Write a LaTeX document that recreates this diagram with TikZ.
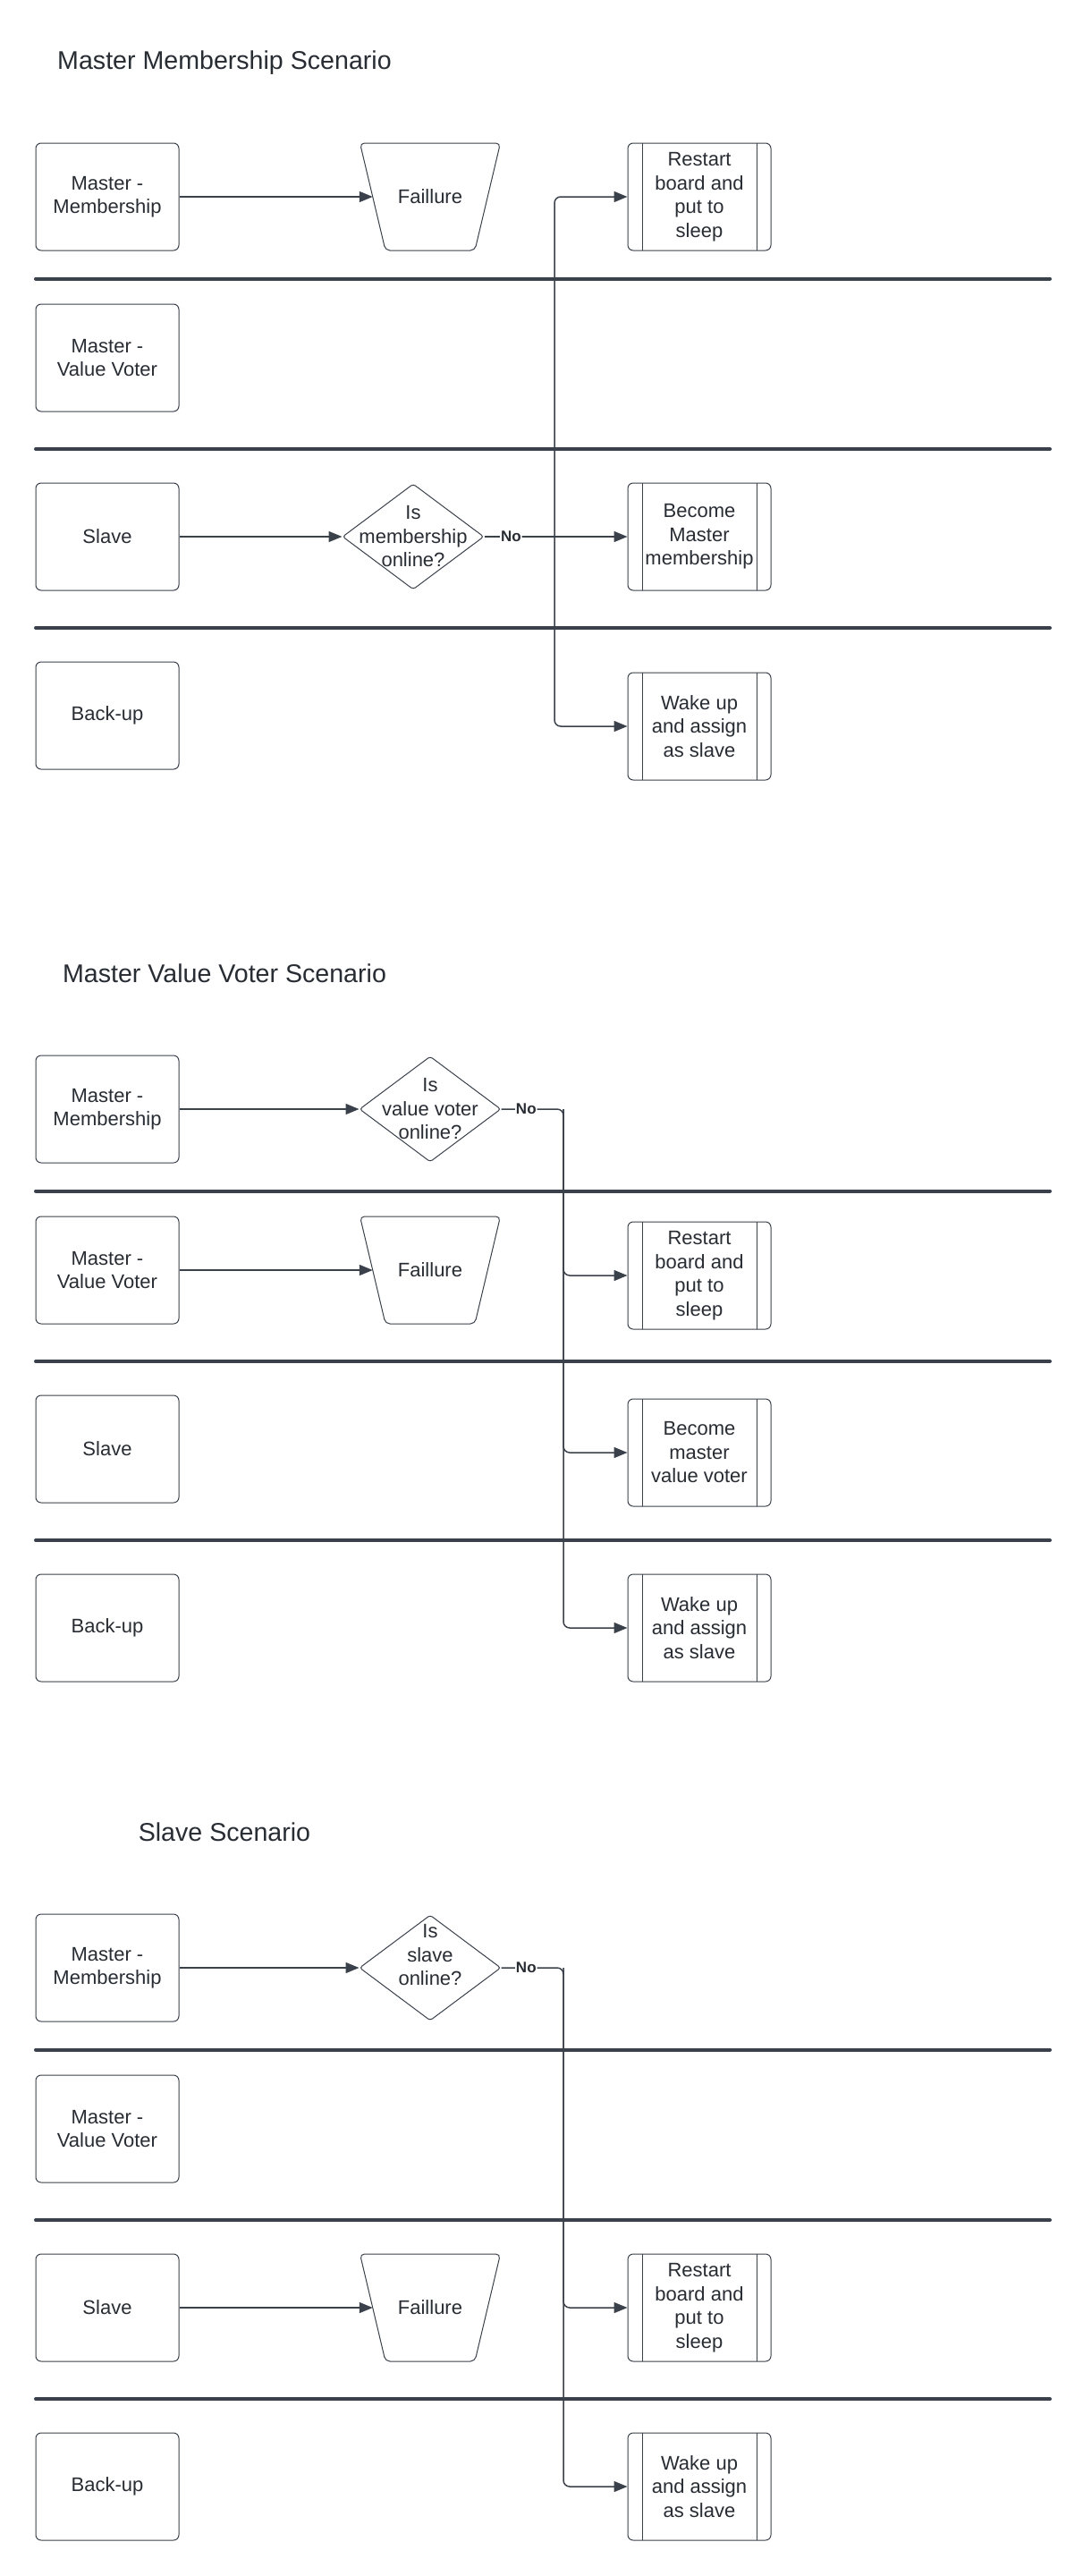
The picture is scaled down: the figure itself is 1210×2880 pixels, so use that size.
\documentclass[tikz,border=0pt]{standalone}
\usepackage{fontspec}
\setmainfont{Liberation Sans}
\usepackage{tikz}
\usetikzlibrary{arrows.meta,shapes.geometric}
\definecolor{inkgray}{HTML}{282C33}
\definecolor{linegray}{HTML}{3A414A}

\tikzset{
  boxfont/.style={text=inkgray, font=\fontsize{22}{26.5}\selectfont},
  lane/.style={boxfont, draw=linegray, line width=1pt, rounded corners=6pt,
    minimum width=160pt, minimum height=120pt, align=center},
  procbox/.style={lane, inner sep=0pt,
    path picture={\draw[linegray, line width=1pt]
      ([xshift=16pt]path picture bounding box.north west) -- ([xshift=16pt]path picture bounding box.south west)
      ([xshift=-16pt]path picture bounding box.north east) -- ([xshift=-16pt]path picture bounding box.south east);}},
  failbox/.style={boxfont, minimum width=128.5pt, minimum height=120pt,
    inner sep=0pt, outer sep=0pt},
  failline/.style={draw=linegray, line width=1pt, rounded corners=5pt},
  decision/.style={draw=linegray, line width=1pt, diamond, minimum width=158pt,
    minimum height=118pt, inner sep=0pt, rounded corners=3pt},
  asktext/.style={boxfont, align=center, inner sep=0pt},
  heading/.style={text=inkgray, font=\fontsize{28.6}{34}\selectfont},
  divider/.style={draw=linegray, line width=4pt, line cap=round},
  flow/.style={draw=linegray, line width=1.5pt, rounded corners=7pt,
    -{Triangle[length=15pt,width=12pt]}},
  nolabel/.style={fill=white, inner sep=1pt, text=inkgray,
    font=\bfseries\fontsize{17}{18}\selectfont, pos=0.4}
}
% outline of a failure node: wide on top, narrow below
\newcommand{\failshape}[1]{%
  \draw[failline] ([xshift=-78.5pt]#1.north) -- ([xshift=78.5pt]#1.north)
    -- ([xshift=50pt]#1.south) -- ([xshift=-50pt]#1.south) -- cycle;}

\begin{document}
\begin{tikzpicture}[x=1pt,y=-1pt]
  \fill[white] (0,0) rectangle (1210,2880);
  \useasboundingbox (0,0) rectangle (1210,2880);

  % titles
  \node[heading] (t1) at (251,70) {Master Membership Scenario};
  \node[heading] (t2) at (251,1088) {Master Value Voter Scenario};
  \node[heading] (t3) at (251,2048) {Slave Scenario};

  % the four lanes of every scenario
  \foreach \s/\b in {1/160,2/1180,3/2140} {
    \node[lane] (mm\s) at (120,\b+60) {Master -\\Membership};
    \node[lane] (vv\s) at (120,\b+240) {Master -\\Value Voter};
    \node[lane] (sl\s) at (120,\b+440) {Slave};
    \node[lane] (bk\s) at (120,\b+640) {Back-up};
    \foreach \d in {151.5,342,542}
      \draw[divider] (40,\b+\d) -- (1174,\b+\d);
  }

  % master membership scenario
  \node[failbox] (fl1) at (481,220) {Faillure};
  \failshape{fl1}
  \node[procbox] (rs1) at (782,220) {Restart\\board and\\put to\\sleep};
  \node[decision] (dc1) at (462,600) {};
  \node[asktext] (q1) at (dc1) {Is\\membership\\online?};
  \node[procbox] (bm1) at (782,600) {Become\\Master\\membership};
  \node[procbox] (wk1) at (782,812) {Wake up\\and assign\\as slave};
  \coordinate (j1) at (620,600);
  \draw[flow] (mm1) -- (fl1);
  \draw[flow] (sl1) -- (dc1);
  \draw[flow] (dc1) -- node[nolabel,pos=0.38] {No} (j1) -- (bm1);
  \draw[flow] (j1) |- (rs1);
  \draw[flow] (j1) |- (wk1);

  % master value voter scenario
  \node[decision] (dc2) at (481,1240) {};
  \node[asktext] (q2) at (dc2) {Is\\value voter\\online?};
  \node[failbox] (fl2) at (481,1420) {Faillure};
  \failshape{fl2}
  \node[procbox] (rs2) at (782,1426) {Restart\\board and\\put to\\sleep};
  \node[procbox] (bm2) at (782,1624) {Become\\master\\value voter};
  \node[procbox] (wk2) at (782,1820) {Wake up\\and assign\\as slave};
  \coordinate (j2) at (630,1240);
  \draw[flow] (mm2) -- (dc2);
  \draw[flow] (vv2) -- (fl2);
  \draw[flow] (dc2) -- node[nolabel] {No} (j2) |- (rs2);
  \draw[flow] (j2) |- (bm2);
  \draw[flow] (j2) |- (wk2);

  % slave scenario
  \node[decision] (dc3) at (481,2200) {};
  \node[asktext] (q3) at ([yshift=14pt]dc3) {Is\\slave\\online?};
  \node[failbox] (fl3) at (481,2580) {Faillure};
  \failshape{fl3}
  \node[procbox] (rs3) at (782,2580) {Restart\\board and\\put to\\sleep};
  \node[procbox] (wk3) at (782,2780) {Wake up\\and assign\\as slave};
  \coordinate (j3) at (630,2200);
  \draw[flow] (mm3) -- (dc3);
  \draw[flow] (sl3) -- (fl3);
  \draw[flow] (dc3) -- node[nolabel] {No} (j3) |- (rs3);
  \draw[flow] (j3) |- (wk3);
\end{tikzpicture}
\end{document}
